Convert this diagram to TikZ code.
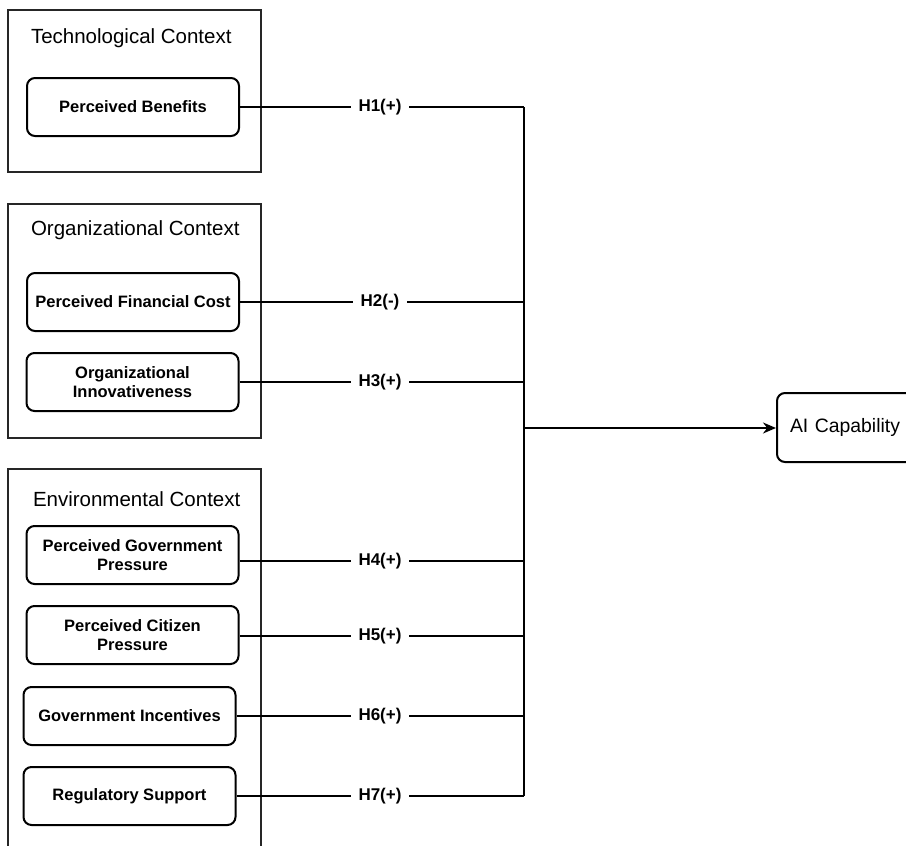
\documentclass[tikz,border=0pt]{standalone}
\usepackage{fontspec}
\setmainfont{Liberation Sans}
\usetikzlibrary{arrows.meta}
\begin{document}
\begin{tikzpicture}[x=1pt,y=-1pt,
  line width=2pt,
  ctx/.style={draw=black!85,line width=2pt},
  ctxtitle/.style={anchor=west,inner sep=0pt,font=\fontsize{20.5}{23}\selectfont},
  var/.style={draw,rounded corners=8pt,line width=2pt,minimum width=212pt,minimum height=58pt,
    align=center,inner sep=2pt,font=\bfseries\fontsize{16.5}{19.5}\selectfont},
  hyp/.style={inner xsep=7pt,inner ysep=2pt,font=\bfseries\fontsize{17}{19}\selectfont},
  conn/.style={draw,line width=2pt}]
\useasboundingbox (0,0) rectangle (906,846);
% context boxes
\draw[ctx] (8,10) rectangle (261,172);
\node[ctxtitle] (tt) at (30,38) {Technological Context};
\draw[ctx] (8,204) rectangle (261,438);
\node[ctxtitle] (ot) at (30,230) {Organizational Context};
\draw[ctx] (8,850) -- (8,469) -- (261,469) -- (261,850);
\node[ctxtitle] (et) at (32,499) {Environmental Context};
% variables
\node[var] (pb) at (133,107) {Perceived Benefits};
\node[var] (pf) at (133,302) {Perceived Financial Cost};
\node[var] (oi) at (132.5,382) {Organizational\\Innovativeness};
\node[var] (pg) at (132.5,555) {Perceived Government\\Pressure};
\node[var] (pc) at (132.5,635) {Perceived Citizen\\Pressure};
\node[var] (gi) at (129.5,716) {Government Incentives};
\node[var] (rs) at (129.5,796) {Regulatory Support};
% outcome
\node[draw,rounded corners=8pt,line width=2pt,minimum height=69pt,text width=122pt,
  inner xsep=13pt,anchor=west,font=\fontsize{19.4}{22}\selectfont] (ai) at (776,427.5) {AI Capability};
% hypothesis labels
\node[hyp] (h1) at (380,107) {H1(+)};
\node[hyp] (h2) at (380,302) {H2(-)};
\node[hyp] (h3) at (380,382) {H3(+)};
\node[hyp] (h4) at (380,561) {H4(+)};
\node[hyp] (h5) at (380,636) {H5(+)};
\node[hyp] (h6) at (380,716) {H6(+)};
\node[hyp] (h7) at (380,796) {H7(+)};
% bus coordinates
\coordinate (b1) at (524,107);
\coordinate (b2) at (524,302);
\coordinate (b3) at (524,382);
\coordinate (b4) at (524,561);
\coordinate (b5) at (524,636);
\coordinate (b6) at (524,716);
\coordinate (b7) at (524,796);
\coordinate (bo) at (524,428);
% connectors
\draw[conn] (pb.east) -- (h1.west) (h1.east) -- (b1);
\draw[conn] (pf.east) -- (h2.west) (h2.east) -- (b2);
\draw[conn] (oi.east) -- (h3.west) (h3.east) -- (b3);
\draw[conn] (pg.east |- b4) -- (h4.west) (h4.east) -- (b4);
\draw[conn] (pc.east |- b5) -- (h5.west) (h5.east) -- (b5);
\draw[conn] (gi.east) -- (h6.west) (h6.east) -- (b6);
\draw[conn] (rs.east) -- (h7.west) (h7.east) -- (b7);
\draw[conn] (b1) -- (b7);
\draw[conn,-{Stealth[length=13pt,width=11pt]}] (bo) -- (ai.west |- bo);
\end{tikzpicture}
\end{document}
